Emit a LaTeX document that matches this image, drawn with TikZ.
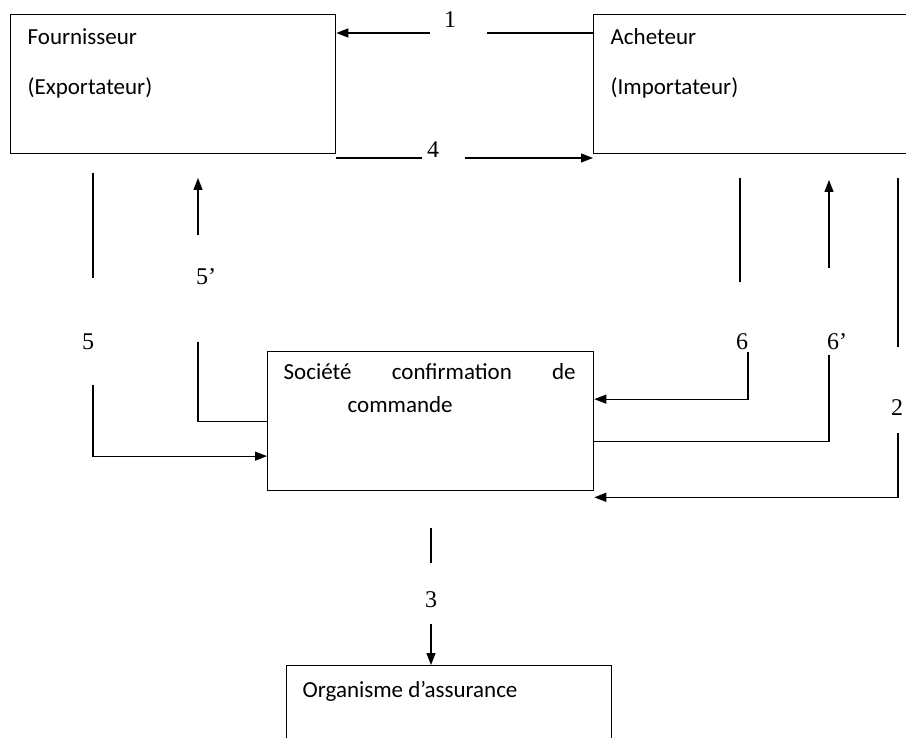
\documentclass[tikz,border=0pt]{standalone}
\usepackage{fontspec}
\setmainfont{Carlito}
\newfontfamily\numfont{Liberation Serif}
\usetikzlibrary{arrows.meta,positioning}

\begin{document}
\begin{tikzpicture}[x=1pt,y=-1pt,line width=1.3pt,
  box/.style={draw,anchor=north west,inner sep=0pt},
  txt/.style={anchor=base west,inner sep=0pt,font=\fontsize{23}{28}\selectfont},
  num/.style={inner sep=0pt,font=\numfont\fontsize{24}{28}\selectfont},
  arr/.style={-{Triangle[length=12pt,width=9pt]}}]

  \clip (0,0) rectangle (906,738);

  \node[box,minimum width=325pt,minimum height=139pt] (fourn) at (10,14) {};
  \node[box,minimum width=340pt,minimum height=139pt] (ach) at (593,14) {};
  \node[box,minimum width=326pt,minimum height=139pt] (soc) at (267,351) {};
  \node[box,minimum width=325pt,minimum height=120pt] (org) at (286,665) {};

  \node[txt] (fourn1) at ([shift={(17,31)}]fourn.north west) {Fournisseur};
  \node[txt] (fourn2) at ([shift={(17,81)}]fourn.north west) {(Exportateur)};
  \node[txt] (ach1) at ([shift={(17,31)}]ach.north west) {Acheteur};
  \node[txt] (ach2) at ([shift={(17,81)}]ach.north west) {(Importateur)};
  \node[txt] (soc1) at ([shift={(16,29)}]soc.north west) {\makebox[292pt][s]{Société confirmation de}};
  \node[txt] (soc2) at ([shift={(80,62)}]soc.north west) {commande};
  \node[txt] (org1) at ([shift={(16,32)}]org.north west) {Organisme d’assurance};

  \node[num] (n1) at (450,20) {1};
  \node[num] (n4) at (433,150) {4};
  \node[num] (n5) at (88,342) {5};
  \node[num] (n5p) at (206,277) {5’};
  \node[num] (n6) at (742,342) {6};
  \node[num] (n6p) at (837,342) {6’};
  \node[num] (n2) at (897,408) {2};
  \node[num] (n3) at (431,600) {3};

  \coordinate (g1r) at (487,33);
  \coordinate (g1l) at (430,33);
  \coordinate (g4l) at (422,158);
  \coordinate (g4r) at (465,158);
  \coordinate (c5a) at (93,173);
  \coordinate (c5b) at (93,278);
  \coordinate (c5c) at (93,385);
  \coordinate (c5pa) at (198,235);
  \coordinate (c5pb) at (198,178);
  \coordinate (c5pc) at (198,342);
  \coordinate (c6a) at (740,178);
  \coordinate (c6b) at (740,282);
  \coordinate (c6c) at (748,352);
  \coordinate (c6pa) at (829,268);
  \coordinate (c6pb) at (829,180);
  \coordinate (c6pc) at (829,355);
  \coordinate (c2a) at (898,178);
  \coordinate (c2b) at (898,347);
  \coordinate (c2c) at (898,433);
  \coordinate (c3a) at (431,528);
  \coordinate (c3b) at (431,563);
  \coordinate (c3c) at (431,624);

  \draw (ach.north west |- g1r) -- (g1r);
  \draw[arr] (g1l) -- (fourn.north east |- g1l);
  \draw (fourn.south east |- g4l) -- (g4l);
  \draw[arr] (g4r) -- (ach.south west |- g4r);

  \draw (c5a) -- (c5b);
  \draw[arr] (c5c) |- ([yshift=-35pt]soc.west);
  \draw[arr] (c5pa) -- (c5pb);
  \draw (soc.west) -| (c5pc);

  \draw (c6a) -- (c6b);
  \draw[arr] (c6c) |- ([yshift=22pt]soc.east);
  \draw[arr] (c6pa) -- (c6pb);
  \draw ([yshift=-20pt]soc.east) -| (c6pc);

  \draw (c2a) -- (c2b);
  \draw[arr] (c2c) |- ([yshift=-6pt]soc.south east);

  \draw (c3a) -- (c3b);
  \draw[arr] (c3c) -- (org.north -| c3c);

\end{tikzpicture}
\end{document}
